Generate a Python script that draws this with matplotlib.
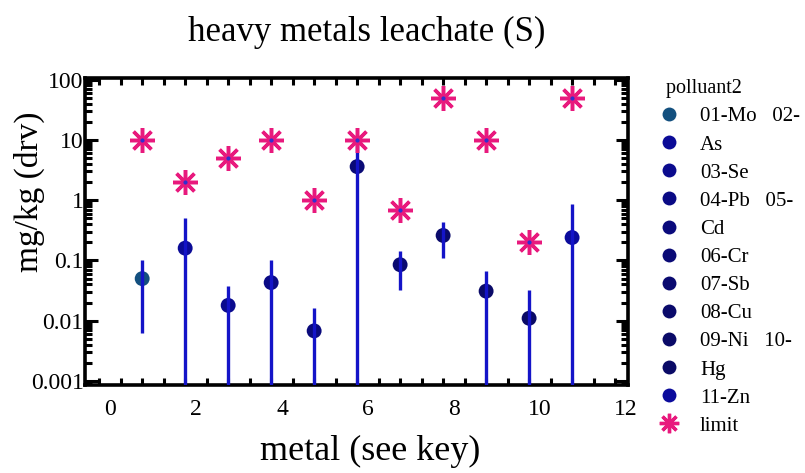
import matplotlib
matplotlib.use("Agg")
import matplotlib.pyplot as plt
import matplotlib.transforms as mtransforms
from matplotlib.lines import Line2D
import numpy as np

# metals in key order, x position = index in key
metals = ["01-Mo", "02-As", "03-Se", "04-Pb", "05-Cd", "06-Cr",
          "07-Sb", "08-Cu", "09-Ni", "10-Hg", "11-Zn"]
x_pos = [1, 2, 3, 4, 5, 6, 7, 8, 9, 10, 11]

# mean leachate concentration, mg/kg (dry)
mean_val = [0.05, 0.16, 0.018, 0.043, 0.0068, 3.6, 0.085, 0.26, 0.031, 0.011, 0.24]
upper_val = [0.1, 0.5, 0.038, 0.1, 0.016, 9.2, 0.145, 0.44, 0.066, 0.033, 0.88]
# 0 = bar runs below the axis
lower_val = [0.0063, 0, 0, 0, 0, 0, 0.033, 0.11, 0, 0, 0]
limit_val = [10, 2, 5, 10, 1, 10, 0.7, 50, 10, 0.2, 50]

# key text as it wraps in the original
key_lines = ["01-Mo   02-", "As", "03-Se", "04-Pb   05-", "Cd", "06-Cr",
             "07-Sb", "08-Cu", "09-Ni   10-", "Hg", "11-Zn", "limit"]

y_ticks = [0.001, 0.01, 0.1, 1, 10, 100]
y_tick_labels = ["0.001", "0.01", "0.1", "1", "10", "100"]
x_ticks = [0, 2, 4, 6, 8, 10, 12]

point_colors = ["#13507f", "#0b0b97", "#0b0b8e", "#0a0a85", "#0a0a7c", "#0a0a76",
                "#0a0a70", "#0a0a6b", "#0a0a68", "#0a0a66", "#0b0b9c"]
bar_color = "#1414c8"
star_color = "#e8197d"

plt.rcParams['font.family'] = ['Liberation Serif', 'DejaVu Serif']

fig = plt.figure(figsize=(8.05, 4.73), dpi=100)
ax = fig.add_axes([0.1056, 0.186, 0.6745, 0.649])

# points first, then the bars over them
ax.scatter(x_pos, mean_val, s=115, c=point_colors, zorder=2, linewidths=0)
low = [v if v > 0 else 1e-6 for v in lower_val]
ax.vlines(x_pos, low, upper_val, colors=bar_color, linewidth=2.4, zorder=3)

ax.plot(x_pos, limit_val, linestyle="none", marker=(8, 2, 0), markersize=18,
        markeredgewidth=2.5, color=star_color, zorder=4)
ax.plot(x_pos, limit_val, linestyle="none", marker="o", markersize=2,
        color="#3030d0", zorder=5)

ax.set_yscale("log")
ax.set_ylim(0.00086, 106)
ax.set_xlim(-0.33, 12.3)

ax.set_yticks(y_ticks)
ax.set_yticklabels(y_tick_labels)
ax.set_xticks(x_ticks)
ax.set_xticks(np.arange(0, 12.5, 0.5), minor=True)

ax.tick_params(which="both", direction="in", top=True, right=True, width=2.2,
               labelsize=17)
ax.tick_params(axis="y", which="major", length=9, pad=1)
ax.tick_params(axis="y", which="minor", length=5)
ax.tick_params(axis="x", which="both", length=5, pad=10)
for s in ax.spines.values():
    s.set_linewidth(2.6)

# labels sit a little right of their ticks in the original
offset = mtransforms.ScaledTranslation(0.11, 0, fig.dpi_scale_trans)
for lab in ax.get_xticklabels():
    lab.set_transform(lab.get_transform() + offset)

fig.text(0.455, 0.932, "heavy metals leachate (S)", ha="center", va="center", fontsize=25)
ax.set_xlabel("metal (see key)", fontsize=26)
ax.xaxis.set_label_coords(0.525, -0.163)
ax.set_ylabel("mg/kg (drv)", fontsize=24)
ax.yaxis.set_label_coords(-0.074, 0.63)

handles = [Line2D([], [], linestyle="none", marker="o", markersize=10,
                  color=c, markeredgewidth=0) for c in point_colors]
handles.append(Line2D([], [], linestyle="none", marker=(8, 2, 0), markersize=14,
                      markeredgewidth=2.4, color=star_color))
leg = fig.legend(handles, key_lines, loc="upper left", bbox_to_anchor=(0.805, 0.85),
                 frameon=False, fontsize=15, title="  polluant2", title_fontsize=14.5,
                 labelspacing=0.41, handletextpad=0.9, handlelength=1.2,
                 alignment="left", borderaxespad=0)

fig.savefig("out.png", dpi=100)
